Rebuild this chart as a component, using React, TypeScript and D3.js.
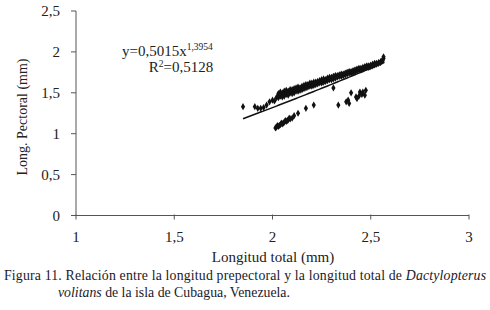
import React from "react";
import * as d3 from "d3";

const xTicks = [1, 1.5, 2, 2.5, 3];
const yTicks = [0, 0.5, 1, 1.5, 2, 2.5];

// Main band of observations [Longitud total, Long. Pectoral]
const mainX = [
  1.85, 1.91, 1.925, 1.94, 1.955, 1.97, 1.985, 2.0, 2.01, 2.02,
  2.03, 2.03, 2.03, 2.04, 2.04, 2.04, 2.05, 2.05, 2.05, 2.06, 2.06, 2.06,
  2.07, 2.07, 2.07, 2.08, 2.08, 2.08, 2.09, 2.09, 2.09, 2.1, 2.1, 2.1,
  2.11, 2.11, 2.11, 2.12, 2.12, 2.12, 2.13, 2.13, 2.13, 2.14, 2.14, 2.14,
  2.15, 2.15, 2.15, 2.16, 2.16, 2.16, 2.17, 2.17, 2.17, 2.18, 2.18, 2.18,
  2.19, 2.19, 2.19, 2.2, 2.2, 2.2, 2.21, 2.21, 2.21, 2.22, 2.22, 2.22,
  2.23, 2.23, 2.23, 2.24, 2.24, 2.24, 2.25, 2.25, 2.25, 2.26, 2.26, 2.26,
  2.27, 2.27, 2.27, 2.28, 2.28, 2.28, 2.29, 2.29, 2.29, 2.3, 2.3, 2.3,
  2.31, 2.31, 2.31, 2.32, 2.32, 2.32, 2.33, 2.33, 2.33, 2.34, 2.34, 2.34,
  2.35, 2.35, 2.35, 2.36, 2.36, 2.36, 2.37, 2.37, 2.37, 2.38, 2.38, 2.38,
  2.39, 2.39, 2.39, 2.4, 2.4, 2.4, 2.41, 2.41, 2.41, 2.42, 2.42, 2.42,
  2.43, 2.43, 2.43, 2.44, 2.44, 2.44, 2.45, 2.45, 2.45, 2.46, 2.46, 2.46,
  2.47, 2.47, 2.47, 2.48, 2.48, 2.48, 2.49, 2.49, 2.49, 2.5, 2.5, 2.5,
  2.51, 2.51, 2.51, 2.52, 2.52, 2.52, 2.53, 2.53, 2.54, 2.54,
  2.55, 2.55, 2.56, 2.56, 2.565, 2.565,
];
const mainY = [
  1.33, 1.33, 1.31, 1.31, 1.32, 1.35, 1.39, 1.41, 1.4, 1.44,
  1.44, 1.49, 1.47, 1.46, 1.51, 1.48, 1.47, 1.5, 1.45, 1.49, 1.52, 1.46,
  1.48, 1.53, 1.5, 1.49, 1.52, 1.47, 1.5, 1.54, 1.52, 1.51, 1.49, 1.54,
  1.53, 1.5, 1.55, 1.52, 1.56, 1.54, 1.55, 1.52, 1.57, 1.56, 1.53, 1.55,
  1.55, 1.58, 1.54, 1.57, 1.55, 1.59, 1.58, 1.56, 1.6, 1.57, 1.6, 1.59,
  1.62, 1.58, 1.59, 1.6, 1.58, 1.62, 1.61, 1.59, 1.63, 1.62, 1.6, 1.63,
  1.61, 1.64, 1.62, 1.64, 1.62, 1.65, 1.63, 1.66, 1.62, 1.65, 1.63, 1.67,
  1.66, 1.64, 1.65, 1.67, 1.65, 1.68, 1.66, 1.69, 1.67, 1.68, 1.66, 1.69,
  1.69, 1.67, 1.7, 1.7, 1.68, 1.71, 1.71, 1.69, 1.7, 1.7, 1.72, 1.71,
  1.72, 1.7, 1.73, 1.73, 1.71, 1.72, 1.74, 1.72, 1.73, 1.75, 1.73, 1.74,
  1.75, 1.74, 1.76, 1.76, 1.74, 1.75, 1.77, 1.75, 1.76, 1.78, 1.76, 1.77,
  1.77, 1.79, 1.78, 1.79, 1.78, 1.8, 1.8, 1.78, 1.79, 1.81, 1.79, 1.8,
  1.82, 1.8, 1.81, 1.82, 1.81, 1.83, 1.83, 1.81, 1.82, 1.84, 1.82, 1.83,
  1.85, 1.83, 1.84, 1.86, 1.84, 1.85, 1.86, 1.85, 1.87, 1.86,
  1.88, 1.87, 1.9, 1.89, 1.94, 1.92,
];
// Lower group of observations
const lowX = [
  2.015, 2.02, 2.025, 2.03, 2.035, 2.04, 2.045, 2.05, 2.055, 2.06, 2.065,
  2.07, 2.075, 2.08, 2.085, 2.09, 2.1, 2.11, 2.13, 2.17, 2.21, 2.31,
  2.335, 2.375, 2.385, 2.39, 2.4, 2.425, 2.43, 2.44, 2.445, 2.455,
  2.46, 2.47, 2.475,
];
const lowY = [
  1.07, 1.08, 1.1, 1.09, 1.1, 1.11, 1.13, 1.12, 1.13, 1.14, 1.16,
  1.15, 1.16, 1.17, 1.19, 1.18, 1.19, 1.22, 1.25, 1.31, 1.35, 1.56,
  1.35, 1.39, 1.41, 1.37, 1.5, 1.45, 1.43, 1.46, 1.51, 1.48,
  1.51, 1.47, 1.53,
];

const coefA = 0.5015;
const coefB = 1.3954;
const fitRange = [1.85, 2.57];

export default function App() {
  const W = 490;
  const H = 310;
  const x = d3.scaleLinear().domain([1, 3]).range([76, 469]);
  const y = d3.scaleLinear().domain([0, 2.5]).range([215.5, 11]);
  const pts = mainX.map((v, i) => [v, mainY[i]]).concat(lowX.map((v, i) => [v, lowY[i]]));
  const fitPts = d3.range(fitRange[0], fitRange[1] + 0.0001, 0.01).map((v) => [v, coefA * Math.pow(v, coefB)]);
  const line = d3.line<number[]>().x((d) => x(d[0])).y((d) => y(d[1]));
  const diamond = d3.symbol().type(d3.symbolDiamond).size(15)();
  const font = "'Liberation Serif', 'Times New Roman', Times, serif";
  const axisColor = "#555";
  const textColor = "#222";
  return (
    <svg width={W} height={H} style={{ position: "absolute", left: 0, top: 0, background: "#fff", fontFamily: font }}>
      <rect width={W} height={H} fill="#fff" />
      {/* axes */}
      <line x1={x(1)} x2={x(3)} y1={y(0)} y2={y(0)} stroke={axisColor} strokeWidth={1} />
      <line x1={x(1)} x2={x(1)} y1={y(0)} y2={y(2.5)} stroke={axisColor} strokeWidth={1} />
      {xTicks.map((t) => (
        <g key={"x" + t}>
          <line x1={x(t)} x2={x(t)} y1={y(0) - 1} y2={y(0) + 4} stroke={axisColor} />
          <text x={x(t)} y={242} textAnchor="middle" fontSize={15} fill={textColor}>
            {String(t).replace(".", ",")}
          </text>
        </g>
      ))}
      {yTicks.map((t) => (
        <g key={"y" + t}>
          <line x1={x(1) - 5} x2={x(1)} y1={y(t)} y2={y(t)} stroke={axisColor} />
          <text x={60} y={y(t) + 5} textAnchor="end" fontSize={15} fill={textColor}>
            {String(t).replace(".", ",")}
          </text>
        </g>
      ))}
      {/* data */}
      {pts.map((p, i) => (
        <path key={i} d={diamond} transform={`translate(${x(p[0])},${y(p[1])})`} fill="#111" />
      ))}
      <path d={line(fitPts) || ""} fill="none" stroke="#111" strokeWidth={1.5} />
      {/* equation */}
      <text x={122} y={56} fontSize={15} fill={textColor}>
        y=0,5015x<tspan fontSize={9.5} dy={-6}>1,3954</tspan>
      </text>
      <text x={181} y={72} fontSize={15} fill={textColor} textAnchor="middle">
        R<tspan fontSize={9.5} dy={-5}>2</tspan><tspan dy={5}>=0,5128</tspan>
      </text>
      {/* axis titles */}
      <text x={273} y={262} textAnchor="middle" fontSize={15} fill={textColor}>
        Longitud total (mm)
      </text>
      <text transform="translate(27,117) rotate(-90)" textAnchor="middle" fontSize={14} fill={textColor}>
        Long. Pectoral (mm)
      </text>
      {/* caption */}
      <text x={4} y={280} fontSize={13.8} fill="#1a1a2a" textLength={482} lengthAdjust="spacing">
        Figura 11. Relación entre la longitud prepectoral y la longitud total de <tspan fontStyle="italic">Dactylopterus</tspan>
      </text>
      <text x={58} y={297} fontSize={13.8} fill="#1a1a2a">
        <tspan fontStyle="italic">volitans</tspan> de la isla de Cubagua, Venezuela.
      </text>
    </svg>
  );
}
